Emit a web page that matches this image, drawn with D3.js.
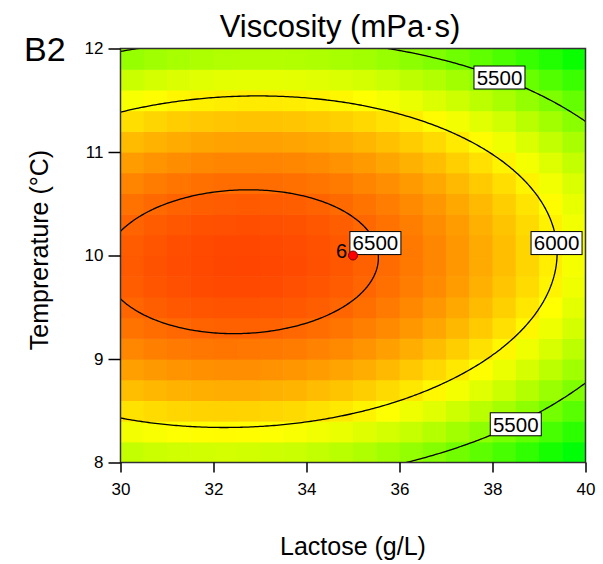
<!DOCTYPE html>
<html>
<head>
<meta charset="utf-8">
<script src="https://cdn.jsdelivr.net/npm/d3@7"></script>
<style>
  body { margin: 0; background: #fff; }
  svg { display: block; font-family: Arial, "Liberation Sans", sans-serif; }
</style>
</head>
<body>
<svg id="chart" width="603" height="564"></svg>
<script>
// Fitted quadratic model for viscosity (mPa·s) in coded factors:
// A = (Lactose - 35) / 5, B = (Temperature - 10) / 2
const modelTerms = ["Intercept", "A", "B", "AB", "A^2", "B^2"];
const modelCoefs = [6538.8, -319.8, -29.0, 60.0, -335.0, -963.0];

// Factor ranges and axis ticks
const lactoseRange = [30, 40];
const tempRange = [8, 12];
const xTicks = [30, 32, 34, 36, 38, 40];
const yTicks = [8, 9, 10, 11, 12];

// Contour levels
const contourLevels = [5500, 6000, 6500];

// Design point (centre point with replicate count)
const designLactose = [35];
const designTemp = [10];
const designReps = [6];

function viscosity(L, T) {
  const A = (L - 35) / 5, B = (T - 10) / 2;
  const terms = [1, A, B, A * B, A * A, B * B];
  return d3.sum(terms, (v, i) => v * modelCoefs[i]);
}

const svg = d3.select("#chart");
const x = d3.scaleLinear().domain(lactoseRange).range([120.5, 585.5]);
const y = d3.scaleLinear().domain(tempRange).range([462.5, 48.5]);

const color = d3.scaleLinear()
  .domain([4160, 5060, 5960, 6860])
  .range(["#00ffff", "#00ff00", "#ffff00", "#ff0000"])
  .clamp(true);

svg.append("defs").append("clipPath").attr("id", "plotClip")
  .append("rect")
  .attr("x", x(lactoseRange[0])).attr("y", y(tempRange[1]))
  .attr("width", x(lactoseRange[1]) - x(lactoseRange[0]))
  .attr("height", y(tempRange[0]) - y(tempRange[1]));

const plot = svg.append("g").attr("clip-path", "url(#plotClip)");

// Graduated colour cells (20 x 20)
const nCells = 20;
const dL = (lactoseRange[1] - lactoseRange[0]) / nCells;
const dT = (tempRange[1] - tempRange[0]) / nCells;
const cells = [];
for (let j = 0; j < nCells; j++) {
  for (let i = 0; i < nCells; i++) {
    const L0 = lactoseRange[0] + i * dL, T0 = tempRange[0] + j * dT;
    cells.push({ L0, T0, v: viscosity(L0 + dL / 2, T0 + dT / 2) });
  }
}
plot.append("g").selectAll("rect").data(cells).join("rect")
  .attr("x", d => x(d.L0))
  .attr("y", d => y(d.T0 + dT))
  .attr("width", d => x(d.L0 + dL) - x(d.L0) + 0.6)
  .attr("height", d => y(d.T0) - y(d.T0 + dT) + 0.6)
  .attr("fill", d => color(d.v));

// Contour lines from a fine sampling grid (slightly beyond the plot so edges stay open)
const gL0 = 29.5, gL1 = 40.5, gT0 = 7.8, gT1 = 12.2;
const nx = 221, ny = 177;
const sx = (gL1 - gL0) / (nx - 1), sy = (gT1 - gT0) / (ny - 1);
const values = new Array(nx * ny);
for (let j = 0; j < ny; j++) {
  for (let i = 0; i < nx; i++) {
    values[j * nx + i] = viscosity(gL0 + i * sx, gT0 + j * sy);
  }
}
const contours = d3.contours().size([nx, ny]).thresholds(contourLevels)(values);
const proj = d3.geoTransform({
  point: function (cx, cy) {
    this.stream.point(x(gL0 + (cx - 0.5) * sx), y(gT0 + (cy - 0.5) * sy));
  }
});
plot.append("g").selectAll("path").data(contours).join("path")
  .attr("d", d3.geoPath(proj))
  .attr("fill", "none")
  .attr("stroke", "#000")
  .attr("stroke-width", 1.3);

// Plot frame
svg.append("rect")
  .attr("x", x(lactoseRange[0])).attr("y", y(tempRange[1]))
  .attr("width", x(lactoseRange[1]) - x(lactoseRange[0]))
  .attr("height", y(tempRange[0]) - y(tempRange[1]))
  .attr("fill", "none").attr("stroke", "#333").attr("stroke-width", 1.5);

// Axes
const xAxis = svg.append("g")
  .attr("transform", `translate(0,${y(tempRange[0])})`)
  .call(d3.axisBottom(x).tickValues(xTicks).tickSize(10).tickPadding(10).tickFormat(d3.format("d")));
const yAxis = svg.append("g")
  .attr("transform", `translate(${x(lactoseRange[0])},0)`)
  .call(d3.axisLeft(y).tickValues(yTicks).tickSize(12).tickPadding(5).tickFormat(d3.format("d")));
[xAxis, yAxis].forEach(g => {
  g.select(".domain").remove();
  g.selectAll(".tick line").attr("stroke", "#000").attr("stroke-width", 1.5);
  g.selectAll(".tick text").attr("fill", "#000").style("font-size", "17px")
    .style("font-family", "Arial, 'Liberation Sans', sans-serif");
});

// Contour labels: find where each level crosses a chosen line
function solve(level, f, lo, hi) {
  let flo = f(lo) - level;
  for (let k = 0; k < 60; k++) {
    const mid = (lo + hi) / 2, fm = f(mid) - level;
    if ((fm > 0) === (flo > 0)) { lo = mid; flo = fm; } else { hi = mid; }
  }
  return (lo + hi) / 2;
}
const labels = [
  { level: 5500, L: 38.15, T: solve(5500, t => viscosity(38.15, t), 10, 12) },
  { level: 5500, L: 38.5, T: solve(5500, t => viscosity(38.5, t), 10, 8) },
  { level: 6000, T: 10.12, L: solve(6000, l => viscosity(l, 10.12), 34, 40) },
  { level: 6500, T: 10.12, L: solve(6500, l => viscosity(l, 10.12), 33, 38) }
];
const lab = svg.append("g").selectAll("g").data(labels).join("g")
  .attr("transform", d => `translate(${x(d.L)},${y(d.T)})`);
lab.append("rect")
  .attr("x", -25.5).attr("y", -11.5).attr("width", 51).attr("height", 23)
  .attr("fill", "#fff").attr("stroke", "#000").attr("stroke-width", 1);
lab.append("text")
  .attr("text-anchor", "middle").attr("dy", "0.36em")
  .style("font-size", "20.5px").attr("fill", "#000")
  .text(d => d.level);

// Design point
const dp = svg.append("g").selectAll("g").data(designLactose.map((l, i) => ({ L: l, T: designTemp[i], n: designReps[i] })))
  .join("g").attr("transform", d => `translate(${x(d.L)},${y(d.T)})`);
dp.append("circle").attr("r", 4.5).attr("fill", "#ff0000").attr("stroke", "#7a0000").attr("stroke-width", 1);
dp.append("text").attr("x", -6).attr("y", 2.5).attr("text-anchor", "end")
  .style("font-size", "20px").attr("fill", "#000").text(d => d.n);

// Titles
svg.append("text").attr("x", 340).attr("y", 37).attr("text-anchor", "middle")
  .style("font-size", "31px").attr("fill", "#000").text("Viscosity (mPa·s)");
svg.append("text").attr("x", 24).attr("y", 61)
  .style("font-size", "34px").attr("fill", "#000").text("B2");
svg.append("text").attr("x", 353).attr("y", 555).attr("text-anchor", "middle")
  .style("font-size", "25px").attr("fill", "#000").text("Lactose (g/L)");
svg.append("text").attr("transform", "translate(48,250) rotate(-90)").attr("text-anchor", "middle")
  .style("font-size", "25px").attr("fill", "#000").text("Temprerature (°C)");
</script>
</body>
</html>
